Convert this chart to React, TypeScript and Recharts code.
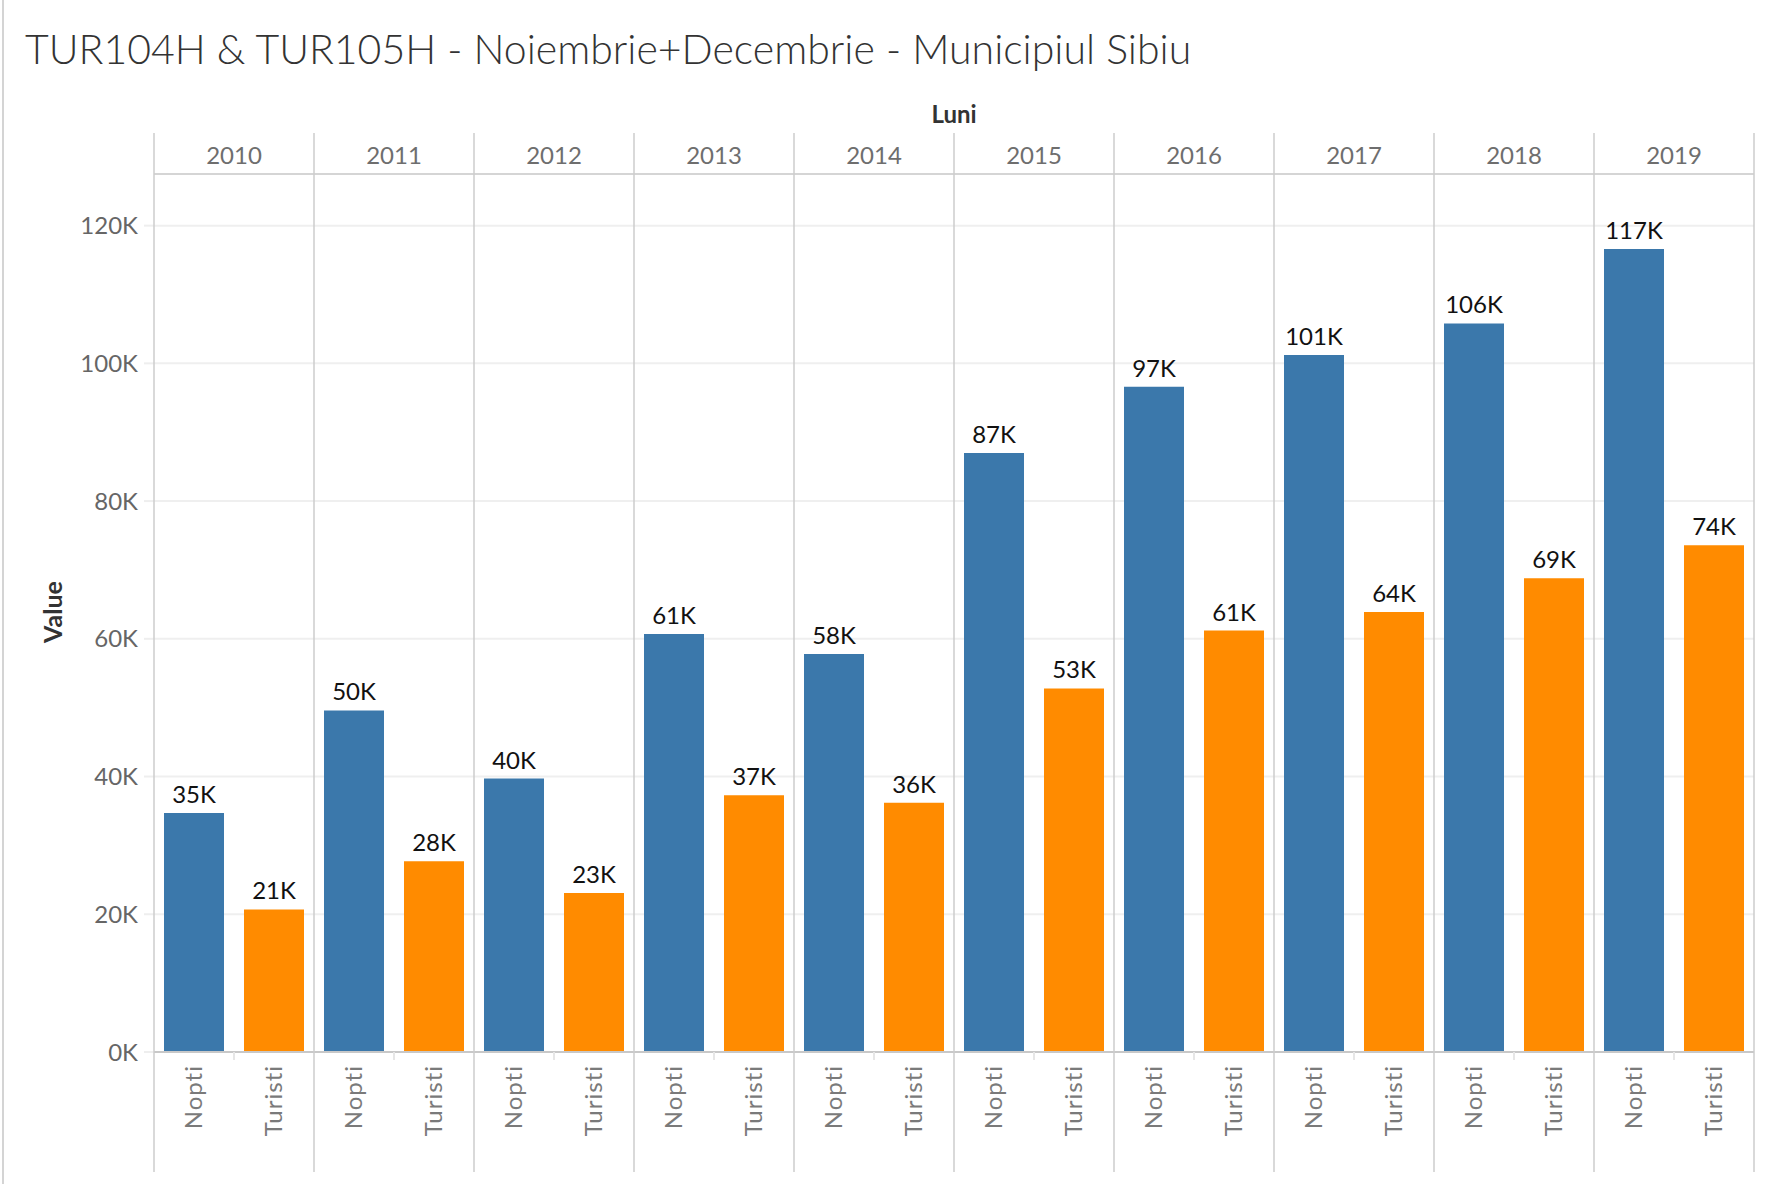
import { BarChart, Bar, XAxis, YAxis, CartesianGrid, LabelList } from 'recharts';

const years = ['2010', '2011', '2012', '2013', '2014', '2015', '2016', '2017', '2018', '2019'];
const measures = ['Nopti', 'Turisti'];
const nopti = [34700, 49600, 39700, 60700, 57800, 87000, 96600, 101200, 105800, 116600];
const turisti = [20700, 27700, 23100, 37300, 36200, 52800, 61200, 63900, 68800, 73600];
const yTicks = [0, 20000, 40000, 60000, 80000, 100000, 120000];

const data = years.map((year, i) => ({ year, Nopti: nopti[i], Turisti: turisti[i] }));

const FONT = 'Lato, "Noto Sans", sans-serif';
const DIVIDER = '#cdcdcd';
const W = 1772;
const H = 1184;
const HEADER_TOP = 133;
const AXIS_BOTTOM = 1172;

const kFormat = (v: number) => `${Math.round(v / 1000)}K`;

// year header + column dividers through the whole pane
const YearTick = (props: any) => {
  const { x, y, payload, index } = props;
  const half = payload.offset || 80;
  return (
    <g>
      <line x1={x - half} x2={x - half} y1={HEADER_TOP} y2={AXIS_BOTTOM} stroke={DIVIDER} strokeWidth={1.5} />
      {index === years.length - 1 && (
        <line x1={x + half} x2={x + half} y1={HEADER_TOP} y2={AXIS_BOTTOM} stroke={DIVIDER} strokeWidth={1.5} />
      )}
      <text x={x} y={y - 2} textAnchor="middle" fill="#6e6e6e" fontSize={24} fontFamily={FONT}>
        {payload.value}
      </text>
    </g>
  );
};

const MeasureTick = (props: any) => {
  const { x, y, payload } = props;
  const half = payload.offset || 80;
  return (
    <g>
      {measures.map((m, i) => {
        const cx = x + (i === 0 ? -half / 2 : half / 2);
        const cy = y + 3;
        return (
          <text
            key={m}
            x={cx}
            y={cy}
            dy="0.35em"
            textAnchor="end"
            transform={`rotate(-90, ${cx}, ${cy})`}
            fill="#7a7a7a"
            fontSize={24}
            letterSpacing={1}
            fontFamily={FONT}
          >
            {m}
          </text>
        );
      })}
    </g>
  );
};

export default function App() {
  return (
    <div style={{ position: 'absolute', left: 0, top: 0, width: W, height: H, background: '#fff', fontFamily: FONT }}>
      <BarChart
        width={W}
        height={H}
        data={data}
        margin={{ top: HEADER_TOP, right: 18, bottom: H - AXIS_BOTTOM, left: 0 }}
        barCategoryGap={10}
        barGap={20}
      >
        <CartesianGrid horizontal vertical={false} stroke="#efefef" strokeWidth={2} />
        <XAxis
          xAxisId="top"
          orientation="top"
          dataKey="year"
          height={41}
          tickLine={false}
          axisLine={{ stroke: DIVIDER, strokeWidth: 1.5 }}
          tick={<YearTick />}
          interval={0}
        />
        <XAxis
          xAxisId="bottom"
          dataKey="year"
          height={120}
          tickSize={8}
          tickLine={{ stroke: '#e6e6e6', strokeWidth: 2 }}
          axisLine={{ stroke: '#c8c8c8', strokeWidth: 2 }}
          tick={<MeasureTick />}
          interval={0}
        />
        <YAxis
          width={154}
          domain={[0, 127500]}
          ticks={yTicks}
          tickFormatter={kFormat}
          tickSize={10}
          tickMargin={6}
          tickLine={{ stroke: '#eeeeee', strokeWidth: 2 }}
          axisLine={false}
          tick={{ fill: '#666', fontSize: 24, fontFamily: FONT }}
        />
        <Bar xAxisId="bottom" dataKey="Nopti" fill="#3b78ab" isAnimationActive={false}>
          <LabelList dataKey="Nopti" position="top" offset={10} formatter={kFormat} fill="#111" fontSize={24} fontFamily={FONT} />
        </Bar>
        <Bar xAxisId="bottom" dataKey="Turisti" fill="#ff8b00" isAnimationActive={false}>
          <LabelList dataKey="Turisti" position="top" offset={10} formatter={kFormat} fill="#111" fontSize={24} fontFamily={FONT} />
        </Bar>
      </BarChart>
      <svg width={W} height={H} style={{ position: 'absolute', left: 0, top: 0, pointerEvents: 'none' }}>
        <line x1={3} x2={3} y1={0} y2={H} stroke="#d4d4d4" strokeWidth={2} />
        <text x={25} y={64} fill="#333" fontSize={41} fontWeight={300} fontFamily={FONT}>
          TUR104H &amp; TUR105H - Noiembrie+Decembrie - Municipiul Sibiu
        </text>
        <text x={954} y={123} textAnchor="middle" fill="#333" fontSize={24} fontWeight={700} fontFamily={FONT}>
          Luni
        </text>
        <text
          x={53}
          y={612}
          textAnchor="middle"
          dy="0.35em"
          transform="rotate(-90, 53, 612)"
          fill="#333"
          fontSize={25}
          fontWeight={700}
          fontFamily={FONT}
        >
          Value
        </text>
      </svg>
    </div>
  );
}
